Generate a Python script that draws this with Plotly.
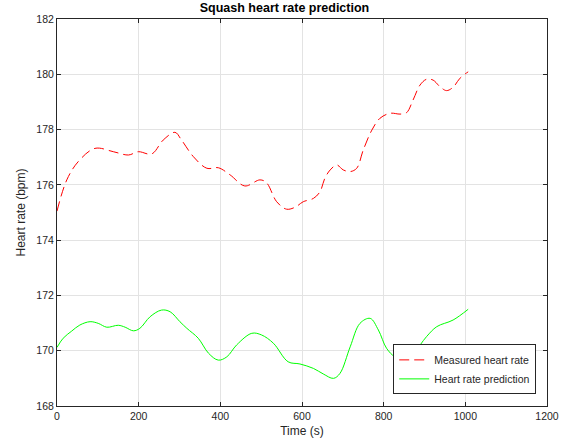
import plotly.graph_objects as go

# Measured heart rate (red dashed)
meas_t = [0, 24, 52, 93, 138, 175, 199, 232, 260, 289, 305, 334, 367, 395, 424, 460, 497, 513,
          538, 562, 583, 603, 628, 644, 656, 669, 685, 701, 718, 734, 750, 771, 791, 816, 840,
          856, 872, 889, 905, 921, 938, 954, 970, 987, 1007]
meas_hr = [175.05, 176.18, 176.84, 177.32, 177.2, 177.08, 177.2, 177.12, 177.62, 177.9, 177.62,
           177.02, 176.6, 176.62, 176.36, 175.96, 176.18, 176.08, 175.39, 175.12, 175.19, 175.39,
           175.51, 175.75, 176.24, 176.54, 176.72, 176.54, 176.48, 176.6, 177.26, 177.98, 178.41,
           178.59, 178.56, 178.61, 179.07, 179.61, 179.82, 179.79, 179.55, 179.41, 179.53, 179.86,
           180.09]

# Heart rate prediction (green solid)
pred_t = [0, 15, 36, 56, 81, 101, 122, 150, 167, 187, 203, 228, 256, 277, 301, 318, 346, 371,
          395, 416, 440, 477, 501, 530, 566, 595, 628, 652, 677, 693, 718, 742, 767, 787, 807,
          828, 848, 873, 905, 930, 970, 1007]
pred_hr = [170.12, 170.45, 170.71, 170.93, 171.05, 170.99, 170.85, 170.92, 170.85, 170.72,
           170.81, 171.23, 171.47, 171.41, 171.05, 170.81, 170.45, 169.91, 169.66, 169.78, 170.21,
           170.63, 170.57, 170.27, 169.6, 169.52, 169.36, 169.16, 169.0, 169.18, 170.14, 170.99,
           171.17, 170.75, 170.09, 169.78, 169.75, 169.93, 170.51, 170.87, 171.11, 171.5]

x_ticks = [0, 200, 400, 600, 800, 1000, 1200]
y_ticks = [168, 170, 172, 174, 176, 178, 180, 182]

font = "Liberation Sans, Arial, sans-serif"
axcol = "#262626"

fig = go.Figure()
fig.add_trace(go.Scatter(x=meas_t, y=meas_hr, mode="lines", name="Measured heart rate",
                         line=dict(color="#ff0000", width=1, dash="10px,5px", shape="spline")))
fig.add_trace(go.Scatter(x=pred_t, y=pred_hr, mode="lines", name="Heart rate prediction",
                         line=dict(color="#00ff00", width=1, shape="spline")))

axis_common = dict(showline=True, linecolor=axcol, linewidth=1, mirror="ticks",
                   ticks="inside", ticklen=4, tickcolor=axcol, showgrid=True,
                   gridcolor="#e3e3e3", gridwidth=1, zeroline=False, automargin=False,
                   tickfont=dict(family=font, size=10.5, color=axcol))

fig.update_xaxes(range=[0, 1200], tickvals=x_ticks,
                 title=dict(text="Time (s)", font=dict(family=font, size=12, color=axcol), standoff=6),
                 **axis_common)
fig.update_yaxes(range=[168, 182], tickvals=y_ticks,
                 title=dict(text="Heart rate (bpm)", font=dict(family=font, size=12, color=axcol), standoff=8),
                 **axis_common)

fig.update_layout(
    width=569, height=444,
    margin=dict(l=57, r=22, t=19, b=38, autoexpand=False),
    paper_bgcolor="white", plot_bgcolor="white",
    title=dict(text="<b>Squash heart rate prediction</b>", x=0.5, xanchor="center",
               y=0.993, yanchor="top", font=dict(family=font, size=12.5, color="#000000")),
    legend=dict(x=0.978, xanchor="right", y=0.03, yanchor="bottom",
                bgcolor="white", bordercolor=axcol, borderwidth=1,
                font=dict(family=font, size=10.5, color=axcol),
                itemwidth=30, tracegroupgap=0),
    showlegend=True,
)

fig.write_html("out.html", post_script="document.body.style.margin='0';",
               config={"displayModeBar": False})
